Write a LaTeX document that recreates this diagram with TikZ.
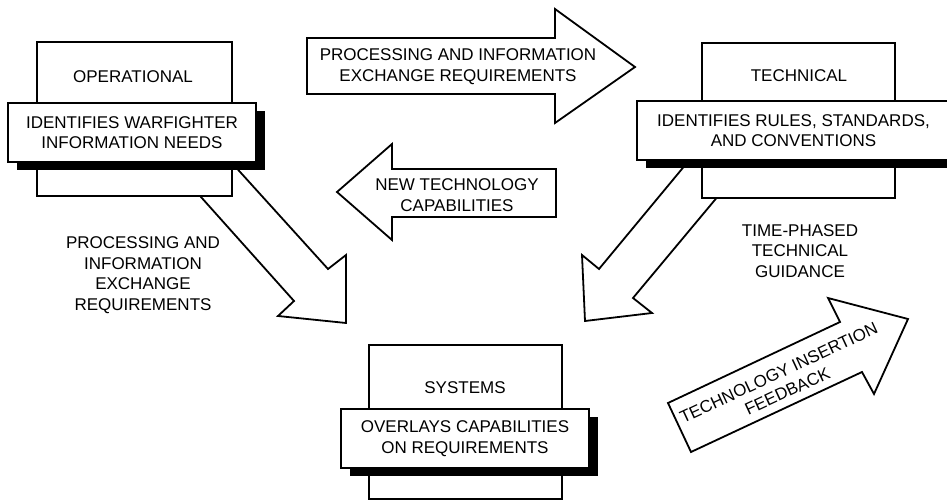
\documentclass[tikz,border=0pt]{standalone}
\usepackage{fontspec}
\setmainfont{Liberation Sans}
\usetikzlibrary{shadows}
\newcommand\dgfont{\fontsize{17bp}{20.5bp}\selectfont}
\begin{document}
\begin{tikzpicture}[x=1bp,y=-1bp,
  txt/.style={font=\dgfont, align=center, inner sep=0pt},
  outerbox/.style={draw=black, line width=1.3bp, fill=white, inner sep=0pt},
  innerbox/.style={draw=black, line width=1.3bp, fill=white, inner sep=0pt,
     align=center, font=\dgfont,
     drop shadow={shadow xshift=9bp, shadow yshift=-8bp, fill=black, opacity=1}},
  blockarrow/.style={draw=black, line width=1.8bp, fill=white, line join=miter}]
\useasboundingbox (0,0) rectangle (947,500);
\clip (0,0) rectangle (947,500);

% diagonal block arrows (behind the boxes)
\draw[blockarrow] (184,178) -- (294,301) -- (278,316) -- (346,323) -- (346,255) -- (328,269) -- (222,152) -- cycle;
\draw[blockarrow] (696,152) -- (599,269) -- (582,255) -- (585,321) -- (652,313) -- (633,298) -- (729,183) -- cycle;

% top right arrow
\draw[blockarrow] (307,38) -- (555,38) -- (555,9) -- (635,67) -- (555,123) -- (555,94) -- (307,94) -- cycle;
\node[txt] (procreq) at (458,66.5) {PROCESSING AND INFORMATION\\EXCHANGE REQUIREMENTS};

% left arrow
\draw[blockarrow] (556,169) -- (392,169) -- (392,144) -- (337,192) -- (392,240) -- (392,217) -- (556,217) -- cycle;
\node[txt] (newtech) at (457,195) {NEW TECHNOLOGY\\CAPABILITIES};

% technology insertion arrow
\draw[blockarrow] (691,452) -- (668,403) -- (840,322) -- (828,298) -- (908,319) -- (874,394) -- (862,372) -- cycle;
\node[txt, rotate=25] (feedback) at (783,382) {TECHNOLOGY INSERTION\\FEEDBACK};

% operational
\node[outerbox, minimum width=195bp, minimum height=154bp] (op) at (134.5,119) {};
\node[txt] (optitle) at (133,77) {OPERATIONAL};
\node[innerbox, minimum width=248bp, minimum height=59bp] (opin) at (132,132.5) {IDENTIFIES WARFIGHTER\\INFORMATION NEEDS};

% technical
\node[outerbox, minimum width=193bp, minimum height=155bp] (tech) at (798.5,120.5) {};
\node[txt] (techtitle) at (799,76) {TECHNICAL};
\node[innerbox, minimum width=313bp, minimum height=59bp] (techin) at (793.5,130.5) {IDENTIFIES RULES, STANDARDS,\\AND CONVENTIONS};

% systems
\node[outerbox, minimum width=193bp, minimum height=154bp] (sys) at (465.5,422) {};
\node[txt] (systitle) at (465,388) {SYSTEMS};
\node[innerbox, minimum width=248bp, minimum height=59bp] (sysin) at (465,438.5) {OVERLAYS CAPABILITIES\\ON REQUIREMENTS};

% free labels
\node[txt] (leftlabel) at (143,275) {PROCESSING AND\\INFORMATION\\EXCHANGE\\REQUIREMENTS};
\node[txt] (timephased) at (800,251) {TIME-PHASED\\TECHNICAL\\GUIDANCE};
\end{tikzpicture}
\end{document}
